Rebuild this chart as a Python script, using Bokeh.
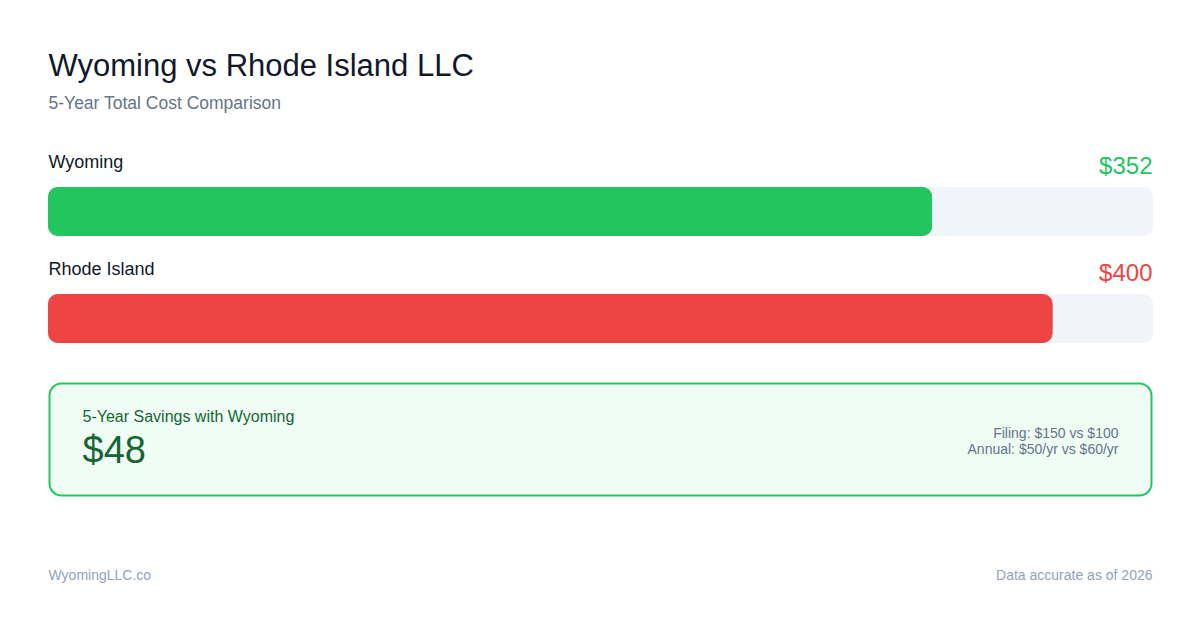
from bokeh.plotting import figure
from bokeh.models import Range1d, Label
from bokeh.embed import file_html
from bokeh.resources import INLINE

# ---------------------- DATOS ----------------------
states = ["Wyoming", "Rhode Island"]
totals = [352, 400]
bar_colors = ["#22c55e", "#ef4444"]
filing_fees = [150, 100]
annual_fees = [50, 60]
savings = totals[1] - totals[0]

title = "Wyoming vs Rhode Island LLC"
subtitle = "5-Year Total Cost Comparison"
savings_label = "5-Year Savings with Wyoming"
footer_left = "WyomingLLC.co"
footer_right = "Data accurate as of 2026"

FONT = "Liberation Sans"
W, H = 1184, 614
axis_max = max(totals) * 1.1   # escala de las barras

# pixeles donde empieza / termina la pista
track_l, track_r = 48, 1152
k = axis_max / (track_r - track_l)


def Y(py):
    # coordenada vertical (desde arriba) -> dato
    return H - py


p = figure(width=W, height=H, output_backend="svg", toolbar_location=None,
           x_range=Range1d(-track_l * k, axis_max + (W - track_r) * k),
           y_range=Range1d(0, H),
           x_axis_location=None, y_axis_location=None,
           min_border=0, outline_line_color=None,
           background_fill_color="white", border_fill_color="white")
p.extra_x_ranges = {"px": Range1d(0, W)}
p.grid.visible = False


def texto(x, y, txt, size, color, align="left"):
    p.add_layout(Label(x=x, y=Y(y), text=txt, x_range_name="px",
                       text_font=FONT, text_font_size=size, text_color=color,
                       text_align=align, text_baseline="alphabetic"))


texto(track_l, 65, title, "31px", "#111827")
texto(track_l, 102, subtitle, "17.5px", "#64748b")

# ---------------------- BARRAS ----------------------
for i, (estado, total, color) in enumerate(zip(states, totals, bar_colors)):
    dy = 107 * i
    texto(track_l, 161 + dy, estado, "18px", "#111827")
    texto(track_r, 165 + dy, f"${total}", "24px", color, align="right")
    p.hbar(y=Y(211 + dy), left=0, right=axis_max, height=48,
           color="#f1f5f9", border_radius=9)
    p.hbar(y=Y(211 + dy), left=0, right=total, height=48,
           color=color, border_radius=9)

# ---------------------- AHORRO ----------------------
p.quad(left=49, right=1151, top=Y(383), bottom=Y(495), x_range_name="px",
       fill_color="#f0fdf4", line_color="#22c55e", line_width=2, border_radius=12)
texto(82, 416, savings_label, "16px", "#166534")
texto(82, 449, f"${savings}", "38px", "#166534")
texto(1118, 432, f"Filing: ${filing_fees[0]} vs ${filing_fees[1]}", "14px", "#64748b", align="right")
texto(1118, 448, f"Annual: ${annual_fees[0]}/yr vs ${annual_fees[1]}/yr", "14px", "#64748b", align="right")

# ---------------------- PIE ----------------------
texto(track_l, 574, footer_left, "14px", "#94a3b8")
texto(track_r, 574, footer_right, "14px", "#94a3b8", align="right")

open("out.html", "w").write(file_html(p, INLINE))
